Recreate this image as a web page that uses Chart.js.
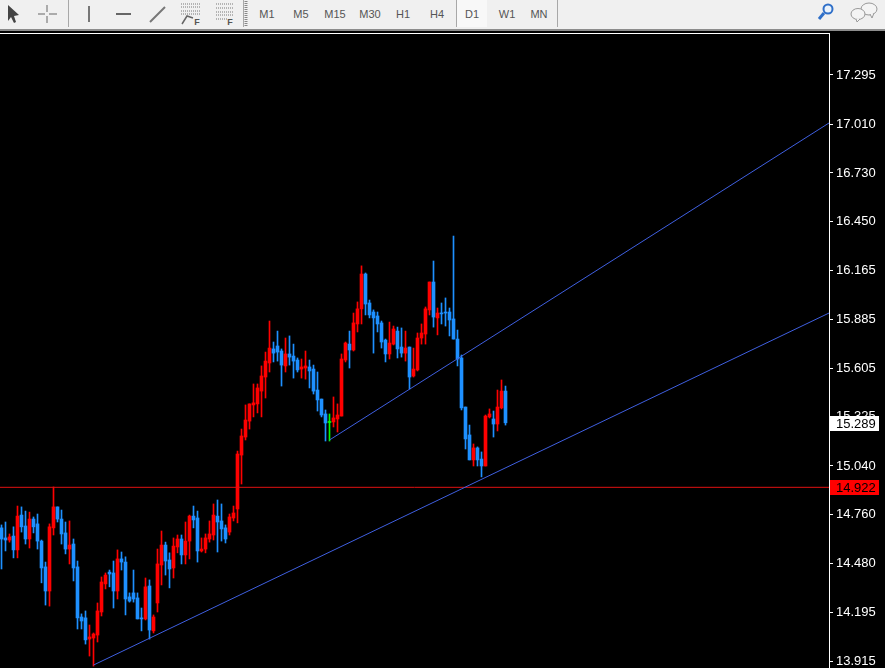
<!DOCTYPE html>
<html>
<head>
<meta charset="utf-8">
<title>D1 chart</title>
<script src="https://cdn.jsdelivr.net/npm/chart.js@4/dist/chart.umd.min.js"></script>
<style>
html,body{margin:0;padding:0;background:#000;width:885px;height:668px;overflow:hidden}
#toolbar{position:absolute;left:0;top:0;width:885px;height:29px;background:#f0f0f0;border-bottom:2px solid #8c8c8c;font:11px "Liberation Sans",sans-serif;color:#555}
#toolbar span{position:absolute;top:8px;transform:translateX(-50%)}
#toolbar i{position:absolute;top:0;width:1px;height:27px;background:#a8a8a8}
#toolbar svg{position:absolute;left:0;top:0}
#d1{position:absolute;left:457px;top:0;width:30px;height:27px;background:#f8f8f8}
#chart{position:absolute;left:0;top:33px}
</style>
</head>
<body>
<div id="toolbar">
<div id="d1"></div>
<svg width="885" height="29">
<path d="M8 5 L8 21 L11 17 L14 23 L16 22 L14 16 L19 15 Z" fill="#444"/>
<path d="M38 14 H45 M49 14 H57 M47 5 V12 M47 16 V23" stroke="#666" stroke-width="1" fill="none"/>
<path d="M89 6 V22" stroke="#777" stroke-width="2"/>
<path d="M116 14 H131" stroke="#666" stroke-width="2"/>
<path d="M150 22 L165 7" stroke="#777" stroke-width="2"/>
<path d="M181 4 H201 M181 7 H201 M181 11 H201 M181 14 H201" stroke="#777" stroke-dasharray="1 1"/>
<path d="M182 24 L187 16 L193 18" stroke="#666" stroke-width="1.5" fill="none"/>
<path d="M216 4 H234 M216 8 H234 M216 12 H234 M216 15 H234 M216 19 H228" stroke="#777" stroke-dasharray="1 1"/>
<path d="M246 1 V27" stroke="#888" stroke-width="3" stroke-dasharray="1 1"/>
<text x="197" y="25" font-family="Liberation Sans" font-size="9" font-weight="bold" fill="#555" text-anchor="middle">F</text>
<text x="230" y="25" font-family="Liberation Sans" font-size="9" font-weight="bold" fill="#555" text-anchor="middle">F</text>
<circle cx="828" cy="9" r="4.5" fill="#eaf2fb" stroke="#2f6fc8" stroke-width="2"/>
<path d="M824 13 L819 19" stroke="#2f6fc8" stroke-width="3"/>
<ellipse cx="869" cy="9" rx="8" ry="6" fill="#f4f4f4" stroke="#999"/>
<path d="M870 14 L872 18 L874 13" fill="#f4f4f4" stroke="#999"/>
<ellipse cx="858" cy="14" rx="7" ry="5.5" fill="#f4f4f4" stroke="#999"/>
<path d="M856 19 L857 22 L860 19" fill="#f4f4f4" stroke="#999"/>
</svg>
<i style="left:68px"></i><i style="left:243px"></i><i style="left:456px"></i><i style="left:557px"></i>
<span style="left:267px">M1</span><span style="left:301px">M5</span><span style="left:335px">M15</span>
<span style="left:370px">M30</span><span style="left:403px">H1</span><span style="left:437px">H4</span>
<span style="left:472px">D1</span><span style="left:507px">W1</span><span style="left:539px">MN</span>
</div>
<canvas id="chart" width="885" height="635"></canvas>
<script>
//chart values
var opens = [14.683,14.625,14.613,14.636,14.556,14.757,14.694,14.619,14.734,14.706,14.607,14.458,14.319,14.683,14.804,14.734,14.654,14.561,14.590,14.458,14.169,14.164,14.042,14.048,14.065,14.198,14.360,14.428,14.423,14.319,14.504,14.486,14.285,14.308,14.279,14.164,14.158,14.348,14.089,14.250,14.469,14.584,14.498,14.452,14.573,14.619,14.527,14.607,14.751,14.740,14.550,14.561,14.619,14.642,14.751,14.723,14.683,14.659,14.740,14.792,15.103,15.207,15.299,15.392,15.398,15.472,15.553,15.634,15.715,15.732,15.703,15.617,15.686,15.674,15.651,15.599,15.605,15.611,15.599,15.478,15.426,15.340,15.291,15.294,15.311,15.328,15.651,15.743,15.709,15.859,15.946,16.147,15.980,15.928,15.905,15.865,15.766,15.686,15.743,15.818,15.726,15.691,15.726,15.559,15.594,15.778,15.801,15.940,16.101,15.894,15.922,15.928,15.928,15.888,15.772,15.663,15.380,15.219,15.075,15.144,15.080,15.040,15.323,15.311,15.282,15.375,15.472];
var highs = [14.700,14.717,14.648,14.689,14.809,14.804,14.780,14.774,14.746,14.763,14.613,14.486,14.706,14.919,14.804,14.786,14.717,14.723,14.619,14.492,14.187,14.204,14.123,14.077,14.250,14.400,14.423,14.440,14.492,14.556,14.544,14.516,14.308,14.440,14.308,14.221,14.394,14.383,14.181,14.561,14.665,14.601,14.539,14.625,14.642,14.642,14.717,14.757,14.809,14.780,14.625,14.648,14.723,14.821,14.844,14.821,14.700,14.763,14.809,15.126,15.253,15.392,15.398,15.513,15.513,15.617,15.697,15.876,15.755,15.818,15.715,15.778,15.790,15.743,15.663,15.657,15.703,15.651,15.622,15.582,15.426,15.363,15.340,15.438,15.398,15.686,15.755,15.818,15.922,15.986,16.194,16.153,15.997,15.940,15.928,15.876,15.772,15.870,15.847,15.841,15.836,15.818,15.726,15.720,15.807,15.859,15.957,16.101,16.222,15.951,15.980,16.009,15.951,16.366,15.824,15.680,15.380,15.276,15.167,15.150,15.121,15.334,15.369,15.357,15.478,15.536,15.501];
var lows = [14.446,14.550,14.601,14.510,14.510,14.659,14.590,14.567,14.654,14.561,14.366,14.238,14.232,14.642,14.717,14.590,14.533,14.475,14.377,14.100,14.100,14.013,13.944,13.886,14.025,14.175,14.331,14.343,14.221,14.273,14.440,14.181,14.255,14.255,14.158,14.089,14.152,14.042,14.077,14.198,14.354,14.411,14.337,14.394,14.539,14.475,14.475,14.504,14.683,14.486,14.544,14.539,14.601,14.613,14.544,14.607,14.596,14.642,14.723,14.712,14.936,15.190,15.253,15.323,15.346,15.323,15.432,15.582,15.640,15.645,15.501,15.582,15.622,15.547,15.582,15.547,15.541,15.490,15.455,15.357,15.323,15.184,15.184,15.265,15.236,15.328,15.640,15.605,15.703,15.813,15.859,15.911,15.894,15.691,15.813,15.720,15.640,15.657,15.738,15.663,15.668,15.645,15.484,15.553,15.588,15.743,15.743,15.911,15.841,15.796,15.859,15.847,15.790,15.772,15.617,15.363,15.138,15.075,15.040,15.040,14.977,15.040,15.317,15.207,15.242,15.369,15.276];
var closes = [14.619,14.613,14.631,14.556,14.751,14.689,14.619,14.734,14.689,14.607,14.452,14.319,14.689,14.804,14.734,14.648,14.561,14.584,14.452,14.164,14.146,14.037,14.054,14.071,14.204,14.371,14.411,14.417,14.319,14.504,14.486,14.273,14.261,14.273,14.158,14.158,14.343,14.094,14.169,14.475,14.584,14.492,14.446,14.578,14.619,14.527,14.607,14.751,14.729,14.550,14.561,14.625,14.648,14.757,14.717,14.677,14.619,14.746,14.769,15.109,15.213,15.305,15.398,15.404,15.490,15.559,15.645,15.720,15.691,15.697,15.622,15.686,15.668,15.645,15.594,15.611,15.617,15.588,15.472,15.421,15.334,15.288,15.291,15.317,15.334,15.657,15.749,15.709,15.865,15.946,16.147,15.974,15.911,15.894,15.859,15.755,15.686,15.749,15.830,15.715,15.691,15.720,15.553,15.599,15.778,15.807,15.946,16.101,15.899,15.922,15.917,15.922,15.882,15.772,15.657,15.375,15.196,15.075,15.144,15.075,15.040,15.328,15.340,15.282,15.380,15.472,15.289];

var tickValues = [17.295,17.010,16.730,16.450,16.165,15.885,15.605,15.325,15.040,14.760,14.480,14.195,13.915];
var scaleTop = 17.537;
var scaleBottom = 13.875;
var firstSlot = -0.375;
var lastSlot = 206.875;

//trend lines, each one is [slot, price] at both ends
var lowerTrend = [[23,13.892],[206.875,15.922]];
var upperTrend = [[82,15.190],[206.875,17.018]];
var levelLine = 14.917;

//price boxes on the axis
var boxLabels = ["15.289","14.922"];
var boxValues = [15.289,14.917];
var boxFills = ["#ffffff","#ff0000"];

var upColor = "#ff0000";
var downColor = "#1e90ff";
var flatColor = "#00ff00";
var lineColor = "#3f5fe0";

function candleColor(i){
	if(closes[i] > opens[i]) return upColor;
	if(closes[i] < opens[i]) return downColor;
	return flatColor;
}

var wicks = [];
var bodies = [];
var colors = [];
for(var i = 0; i < opens.length; i++){
	wicks.push({x: i, y: [lows[i], highs[i]]});
	bodies.push({x: i, y: [opens[i], closes[i]]});
	colors.push(candleColor(i));
}

function toPoints(pairs){
	return pairs.map(function(p){ return {x: p[0], y: p[1]}; });
}

//draws the two price boxes over the axis labels
var priceBoxes = {
	id: "priceBoxes",
	afterDraw: function(chart){
		var ctx = chart.ctx;
		var scale = chart.scales.y;
		ctx.save();
		ctx.font = "13px 'Liberation Sans'";
		ctx.textBaseline = "middle";
		for(var b = 0; b < boxLabels.length; b++){
			var y = Math.round(scale.getPixelForValue(boxValues[b]));
			ctx.fillStyle = boxFills[b];
			ctx.fillRect(830, y - 7, 49, 15);
			ctx.fillStyle = "#000";
			ctx.fillText(boxLabels[b], 836, y + 1);
		}
		ctx.restore();
	}
};

var ctx = document.getElementById("chart");
var myChart = new Chart(ctx, {
	type: "bar",
	data: {
		datasets: [
			{type: "line", data: toPoints(lowerTrend), borderColor: lineColor, borderWidth: 1, pointRadius: 0, order: 1},
			{type: "line", data: toPoints(upperTrend), borderColor: lineColor, borderWidth: 1, pointRadius: 0, order: 1},
			{type: "line", data: [{x: firstSlot, y: levelLine}, {x: lastSlot, y: levelLine}], borderColor: "#e01010", borderWidth: 1, pointRadius: 0, order: 2},
			{data: wicks, backgroundColor: colors, barThickness: 1, grouped: false, order: 4},
			{data: bodies, backgroundColor: colors, barThickness: 3, grouped: false, minBarLength: 1, order: 3}
		]
	},
	options: {
		responsive: false,
		animation: false,
		devicePixelRatio: 1,
		layout: {padding: 0},
		plugins: {legend: {display: false}, tooltip: {enabled: false}},
		scales: {
			x: {
				type: "linear",
				position: "top",
				offset: false,
				min: firstSlot,
				max: lastSlot,
				ticks: {display: false},
				grid: {display: true, drawOnChartArea: false, drawTicks: false},
				border: {color: "#ffffff", width: 1},
				afterFit: function(axis){
					axis.height = 0;
					axis.paddingLeft = 0;
					axis.paddingRight = 0;
				}
			},
			y: {
				position: "right",
				min: scaleBottom,
				max: scaleTop,
				afterBuildTicks: function(axis){
					axis.ticks = tickValues.map(function(v){ return {value: v}; });
				},
				afterFit: function(axis){
					axis.width = 56;
					axis.paddingTop = 0;
					axis.paddingBottom = 0;
				},
				ticks: {
					autoSkip: false,
					color: "#ffffff",
					padding: 3,
					font: {family: "'Liberation Sans'", size: 13},
					callback: function(v){ return Number(v).toFixed(3); }
				},
				grid: {drawOnChartArea: false, color: "#ffffff", tickLength: 4},
				border: {color: "#ffffff", width: 1}
			}
		}
	},
	plugins: [priceBoxes]
});
</script>
</body>
</html>
